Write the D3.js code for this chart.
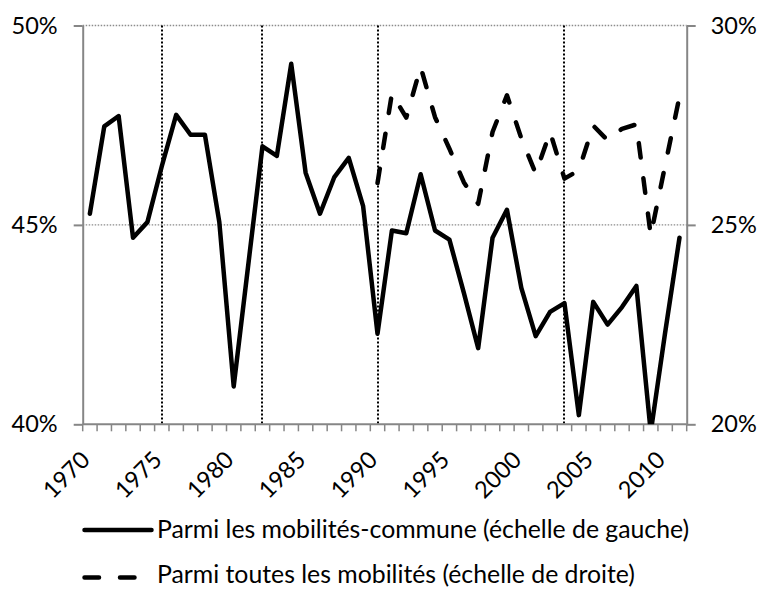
<!DOCTYPE html>
<html>
<head>
<meta charset="utf-8">
<script src="https://cdn.jsdelivr.net/npm/d3@7"></script>
<style>
  body { margin: 0; background: #fff; }
  svg text { font-family: Lato, "Noto Sans", sans-serif; fill: #000; }
</style>
</head>
<body>
<div id="chart"></div>
<script>
/* DATA */
const years = d3.range(1970, 2012);
// parmi les mobilités-commune (échelle de gauche), 1970-2011
const communeValues = [
  45.28, 47.47, 47.73, 44.68, 45.07, 46.47, 47.76, 47.26, 47.26, 45.07,
  40.95, 43.96, 46.97, 46.73, 49.04, 46.31, 45.28, 46.20, 46.68, 45.47,
  42.27, 44.86, 44.79, 46.27, 44.86, 44.63, 43.30, 41.91, 44.68, 45.38,
  43.42, 42.21, 42.82, 43.04, 40.23, 43.07, 42.50, 42.94, 43.47, 39.8,
  42.30, 44.68
];
// parmi toutes les mobilités (échelle de droite), 1990-2011
const allYears = d3.range(1990, 2012);
const allValues = [
  26.05, 28.29, 27.69, 28.96, 27.70, 26.91, 26.07, 25.53, 27.33, 28.25,
  27.17, 26.29, 27.33, 26.16, 26.37, 27.49, 27.12, 27.41, 27.52, 24.74,
  26.49, 28.22
];
const leftTicks = [40, 45, 50];
const rightTicks = [20, 25, 30];
const labelYears = [1970, 1975, 1980, 1985, 1990, 1995, 2000, 2005, 2010];
const markerYears = [1975, 1982, 1990, 2003];
const legendLabels = [
  "Parmi les mobilités-commune (échelle de gauche)",
  "Parmi toutes les mobilités (échelle de droite)"
];

/* LAYOUT */
const width = 761, height = 589;
const plot = { left: 82.7, right: 686.7, top: 25.5, bottom: 424.3 };
const axisGray = "#868686";

const svg = d3.select("#chart").append("svg")
  .attr("width", width)
  .attr("height", height);

const x = d3.scaleBand().domain(years).range([plot.left, plot.right]);
const cx = d => x(d) + x.bandwidth() / 2;
const yL = d3.scaleLinear().domain([40, 50]).range([plot.bottom, plot.top]);
const yR = d3.scaleLinear().domain([20, 30]).range([plot.bottom, plot.top]);

svg.append("clipPath").attr("id", "plotclip")
  .append("rect")
  .attr("x", plot.left).attr("y", plot.top - 3)
  .attr("width", plot.right - plot.left)
  .attr("height", plot.bottom - plot.top + 3);

// horizontal gridlines (dotted gray)
svg.append("g").selectAll("line")
  .data(leftTicks.filter(d => d > 40))
  .join("line")
  .attr("x1", plot.left).attr("x2", plot.right)
  .attr("y1", d => yL(d)).attr("y2", d => yL(d))
  .attr("stroke", "#8c8c8c")
  .attr("stroke-width", 1.3)
  .attr("stroke-dasharray", "1.5,1.5");

// vertical dotted markers
svg.append("g").selectAll("line")
  .data(markerYears)
  .join("line")
  .attr("x1", d => Math.round(cx(d))).attr("x2", d => Math.round(cx(d)))
  .attr("y1", plot.top).attr("y2", plot.bottom)
  .attr("stroke", "#000")
  .attr("stroke-width", 2)
  .attr("stroke-dasharray", "2,2");

// left axis
const gL = svg.append("g")
  .attr("transform", `translate(${plot.left},0)`)
  .call(d3.axisLeft(yL).tickValues(leftTicks).tickFormat(d => d + "%")
    .tickSize(9).tickSizeOuter(0).tickPadding(16));
// right axis
const gR = svg.append("g")
  .attr("transform", `translate(${plot.right},0)`)
  .call(d3.axisRight(yR).tickValues(rightTicks).tickFormat(d => d + "%")
    .tickSize(9).tickSizeOuter(0).tickPadding(15));

[gL, gR].forEach(g => {
  g.select(".domain").attr("stroke", axisGray).attr("stroke-width", 2);
  g.selectAll(".tick line").attr("stroke", axisGray).attr("stroke-width", 2);
  g.selectAll(".tick text").attr("font-size", 23.5).attr("font-family", null);
});

// bottom axis: ticks between categories
const gB = svg.append("g");
gB.append("line")
  .attr("x1", plot.left).attr("x2", plot.right)
  .attr("y1", plot.bottom).attr("y2", plot.bottom)
  .attr("stroke", axisGray).attr("stroke-width", 2);
gB.selectAll("line.tick")
  .data(years.concat([null]))
  .join("line")
  .attr("class", "tick")
  .attr("x1", d => d === null ? plot.right : x(d))
  .attr("x2", d => d === null ? plot.right : x(d))
  .attr("y1", plot.bottom).attr("y2", plot.bottom + 7)
  .attr("stroke", axisGray).attr("stroke-width", 1.5);
gB.selectAll("text")
  .data(labelYears)
  .join("text")
  .attr("transform", d => `translate(${cx(d) + 1.5},${plot.bottom + 37}) rotate(-45)`)
  .attr("text-anchor", "end")
  .attr("font-size", 23.5)
  .text(d => d);

// lines
const plotG = svg.append("g").attr("clip-path", "url(#plotclip)");

const lineL = d3.line().x((d, i) => cx(years[i])).y(d => yL(d));
plotG.append("path")
  .datum(communeValues)
  .attr("d", lineL)
  .attr("fill", "none")
  .attr("stroke", "#000")
  .attr("stroke-width", 4.5)
  .attr("stroke-linejoin", "round")
  .attr("stroke-linecap", "round");

const lineR = d3.line().x((d, i) => cx(allYears[i])).y(d => yR(d));
plotG.append("path")
  .datum(allValues)
  .attr("d", lineR)
  .attr("fill", "none")
  .attr("stroke", "#000")
  .attr("stroke-width", 4.5)
  .attr("stroke-linejoin", "round")
  .attr("stroke-linecap", "round")
  .attr("stroke-dasharray", "14.5,21");

// legend
const legend = svg.append("g");
const legendY = [530, 577.5];
const legendBaseline = [538, 582.5];
legend.append("line")
  .attr("x1", 84.5).attr("x2", 151.5)
  .attr("y1", legendY[0]).attr("y2", legendY[0])
  .attr("stroke", "#000").attr("stroke-width", 4.5)
  .attr("stroke-linecap", "round");
legend.append("line")
  .attr("x1", 84.5).attr("x2", 151.5)
  .attr("y1", legendY[1]).attr("y2", legendY[1])
  .attr("stroke", "#000").attr("stroke-width", 4.5)
  .attr("stroke-linecap", "round")
  .attr("stroke-dasharray", "14.5,21");
legend.selectAll("text")
  .data(legendLabels)
  .join("text")
  .attr("x", 157)
  .attr("y", (d, i) => legendBaseline[i])
  .attr("font-size", 24.8)
  .text(d => d);
</script>
</body>
</html>
